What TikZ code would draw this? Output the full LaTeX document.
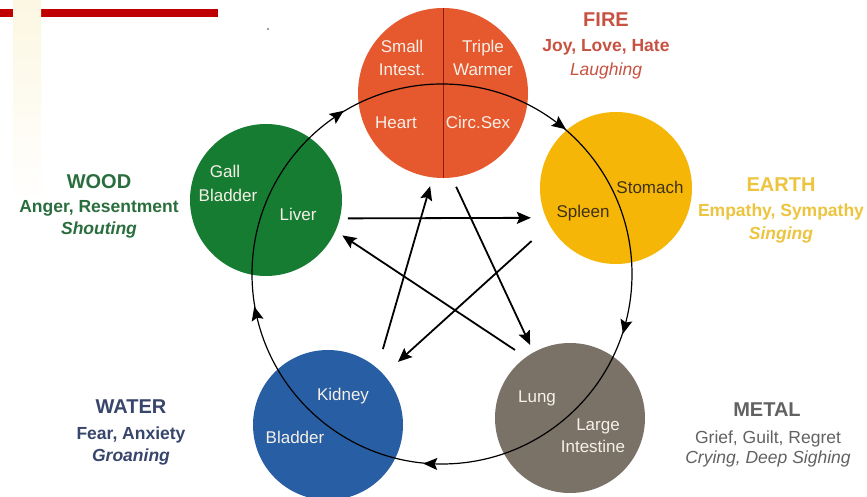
\documentclass[tikz,border=0pt]{standalone}
\usepackage{fontspec}
\setmainfont{Liberation Sans}
\usetikzlibrary{arrows.meta,decorations.markings}

\definecolor{firefill}{RGB}{230,88,46}
\definecolor{firediv}{RGB}{150,25,10}
\definecolor{firetxt}{RGB}{200,82,66}
\definecolor{earthfill}{RGB}{246,182,8}
\definecolor{earthtxt}{RGB}{236,196,62}
\definecolor{woodfill}{RGB}{22,124,50}
\definecolor{woodtxt}{RGB}{42,110,62}
\definecolor{waterfill}{RGB}{40,94,164}
\definecolor{watertxt}{RGB}{56,70,108}
\definecolor{metalfill}{RGB}{122,113,103}
\definecolor{metaltxt}{RGB}{98,98,98}
\definecolor{organwhite}{RGB}{246,240,232}
\definecolor{spleentxt}{RGB}{62,50,20}
\definecolor{barred}{RGB}{192,0,0}
\definecolor{cream}{RGB}{252,247,226}

\begin{document}
\begin{tikzpicture}[x=1pt,y=1pt,
    organ/.style={circle,inner sep=0pt,minimum size=152pt},
    ctrl/.style={->,line width=1.8pt},
    intxt/.style={anchor=base,text=organwhite,font=\fontsize{17}{20}\selectfont},
    head/.style={anchor=base,font=\bfseries\fontsize{20}{24}\selectfont},
    feel/.style={anchor=base,font=\bfseries\fontsize{17.5}{21}\selectfont},
    sound/.style={anchor=base,font=\bfseries\itshape\fontsize{17.5}{21}\selectfont},
    >={Stealth[length=14pt,width=12pt,inset=2.5pt]}]

    % page and corner decoration
    \fill[white] (0,0) rectangle (867,497);
    \useasboundingbox (0,0) rectangle (867,497);
    \fill[barred] (0,480) rectangle (218,488);
    \shade[top color=cream,bottom color=white] (13,290) rectangle (41,497);
    \fill[gray] (268,468) circle (1.2pt);

    % the five elements
    \node (fire) at (443,404) [organ,fill=firefill,minimum size=170pt] {};
    \node (earth) at (616,309) [organ,fill=earthfill] {};
    \node (metal) at (570,79) [organ,fill=metalfill,minimum size=150pt] {};
    \node (water) at (328,72) [organ,fill=waterfill,minimum size=150pt] {};
    \node (wood) at (266,297) [organ,fill=woodfill] {};
    \draw[firediv,line width=0.9pt] (fire.north) -- (fire.south);

    % generating cycle
    \coordinate (hub) at (442,223);
    \draw[line width=1.2pt,postaction={decorate},decoration={markings,
        mark=at position 0.149 with {\arrow{<}},
        mark=at position 0.348 with {\arrow{<}},
        mark=at position 0.539 with {\arrow{<}},
        mark=at position 0.746 with {\arrow{<}},
        mark=at position 0.961 with {\arrow{<}}}] (hub) circle[radius=190pt];

    % controlling cycle
    \draw[ctrl,shorten <=8pt,shorten >=15pt] (wood.-14) -- (earth.203);
    \draw[ctrl,shorten <=24pt,shorten >=19pt] (earth.209) -- (water.42);
    \draw[ctrl,shorten <=20pt,shorten >=9pt] (water.49) -- (fire.263);
    \draw[ctrl,shorten <=10pt,shorten >=8pt] (fire.276) -- (metal.119);
    \draw[ctrl,shorten <=13pt,shorten >=8pt] (metal.126) -- (wood.336);

    % organs
    \node (si1) at (402,444) [intxt] {Small};
    \node (si2) at (402,421) [intxt] {Intest.};
    \node (tw1) at (483,444) [intxt] {Triple};
    \node (tw2) at (483,421) [intxt] {Warmer};
    \node (ht) at (396,368) [intxt] {Heart};
    \node (cs) at (478,368) [intxt] {Circ.Sex};
    \node (gb1) at (225,319) [intxt] {Gall};
    \node (gb2) at (228,295) [intxt] {Bladder};
    \node (lv) at (298,276) [intxt] {Liver};
    \node (st) at (650,303) [intxt,text=spleentxt] {Stomach};
    \node (sp) at (583,279) [intxt,text=spleentxt] {Spleen};
    \node (lu) at (537,94) [intxt] {Lung};
    \node (li1) at (598,66) [intxt] {Large};
    \node (li2) at (593,44) [intxt] {Intestine};
    \node (kd) at (343,96) [intxt] {Kidney};
    \node (bl) at (295,53) [intxt] {Bladder};

    % element labels
    \node (firename) at (606,470) [head,text=firetxt] {FIRE};
    \node (firefeel) at (606,445) [feel,text=firetxt] {Joy, Love, Hate};
    \node (firesound) at (606,421) [sound,text=firetxt,font=\itshape\fontsize{17.5}{21}\selectfont] {Laughing};
    \node (earthname) at (781,305) [head,text=earthtxt] {EARTH};
    \node (earthfeel) at (781,280) [feel,text=earthtxt] {Empathy, Sympathy};
    \node (earthsound) at (781,257) [sound,text=earthtxt] {Singing};
    \node (woodname) at (99,308) [head,text=woodtxt] {WOOD};
    \node (woodfeel) at (99,284) [feel,text=woodtxt] {Anger, Resentment};
    \node (woodsound) at (99,262) [sound,text=woodtxt] {Shouting};
    \node (watername) at (131,83) [head,text=watertxt] {WATER};
    \node (waterfeel) at (131,57) [feel,text=watertxt] {Fear, Anxiety};
    \node (watersound) at (131,35) [sound,text=watertxt] {Groaning};
    \node (metalname) at (767,80) [head,text=metaltxt] {METAL};
    \node (metalfeel) at (768,53) [anchor=base,text=metaltxt,font=\fontsize{17.5}{21}\selectfont] {Grief, Guilt, Regret};
    \node (metalsound) at (768,33) [anchor=base,text=metaltxt,font=\itshape\fontsize{17.5}{21}\selectfont] {Crying, Deep Sighing};
\end{tikzpicture}
\end{document}
